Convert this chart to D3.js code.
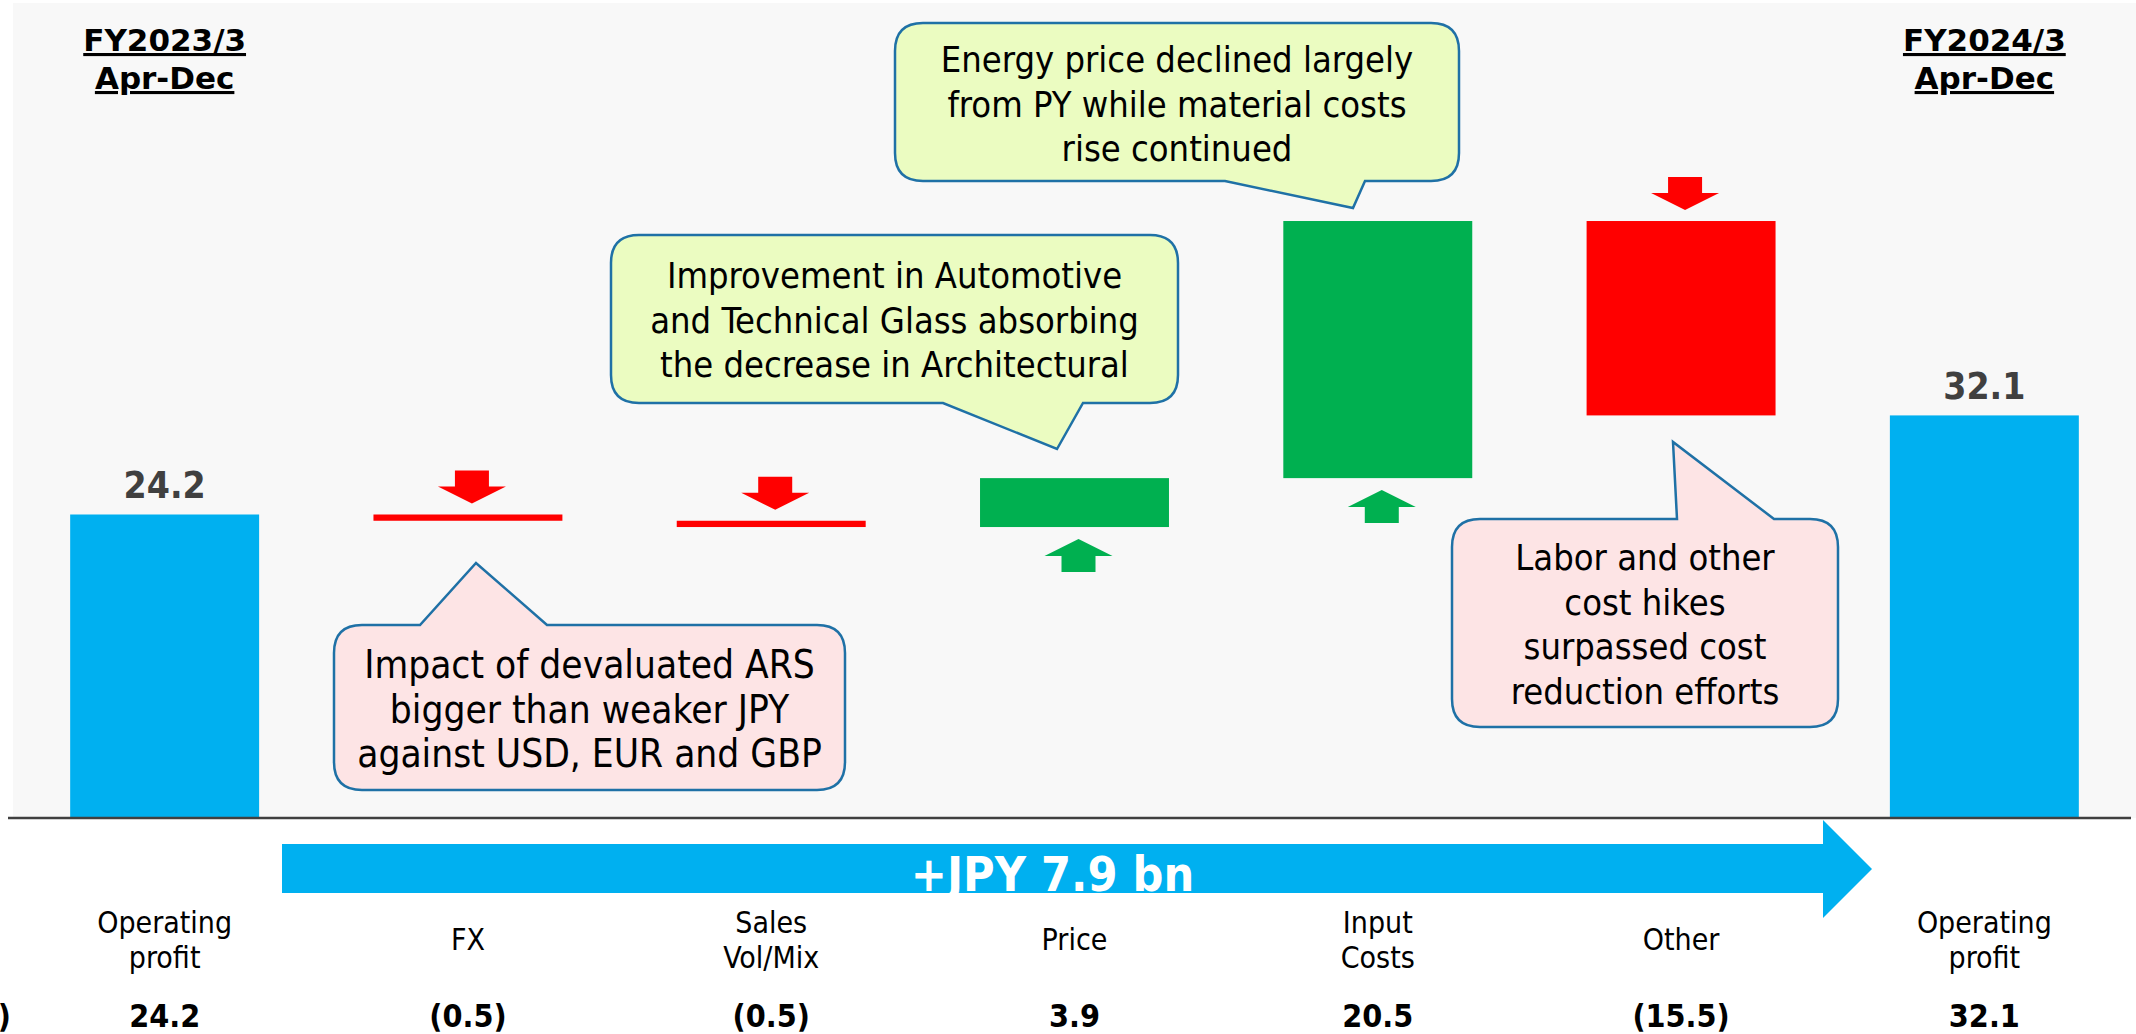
<!DOCTYPE html>
<html>
<head>
<meta charset="utf-8">
<script src="https://cdn.jsdelivr.net/npm/d3@7"></script>
<style>
	body { margin: 0; background: #ffffff; }
	svg { display: block; font-family: "DejaVu Sans", Verdana, sans-serif; }
	.narrow { font-family: "DejaVu Sans Condensed", "DejaVu Sans", sans-serif; font-stretch: condensed; }
</style>
</head>
<body>
<div class="chart"></div>
<script>
// categories and values
var categoryLines = [['Operating', 'profit'], ['FX'], ['Sales', 'Vol/Mix'], ['Price'], ['Input', 'Costs'], ['Other'], ['Operating', 'profit']];
var values = [24.2, -0.5, -0.5, 3.9, 20.5, -15.5, 32.1];
var isTotal = [true, false, false, false, false, false, true];
var valueLabels = ['24.2', '(0.5)', '(0.5)', '3.9', '20.5', '(15.5)', '32.1'];
var periodLabels = [['FY2023/3', 'Apr-Dec'], ['FY2024/3', 'Apr-Dec']];
var unitLabel = '(JPY bn)';
var changeLabel = '+JPY 7.9 bn';

var calloutFx = ['Impact of devaluated ARS', 'bigger than weaker JPY', 'against USD, EUR and GBP'];
var calloutPrice = ['Improvement in Automotive', 'and Technical Glass absorbing', 'the decrease in Architectural'];
var calloutInput = ['Energy price declined largely', 'from PY while material costs', 'rise continued'];
var calloutOther = ['Labor and other', 'cost hikes', 'surpassed cost', 'reduction efforts'];

var drawChart = function(){
	var w = 2136;
	var h = 1034;
	var baseY = 818;

	var blue = '#00b0f0';
	var green = '#00b050';
	var red = '#ff0000';
	var edge = '#1f71a6';

	var svg = d3.select('.chart').append('svg')
		.attr('width', w)
		.attr('height', h);

	/*---------------------------SCALES--------------------------*/

	var x = d3.scaleBand()
		.domain(d3.range(values.length))
		.range([13, w])
		.paddingInner(0.377)
		.paddingOuter(0.1885);

	var y = d3.scaleLinear()
		.domain([0, 48])
		.range([baseY, 216]);

	// running totals for the waterfall
	var run = 0;
	var steps = values.map(function(v, i){
		var s;
		if (isTotal[i]) {
			s = {i: i, from: 0, to: v};
			run = v;
		} else {
			s = {i: i, from: run, to: run + v};
			run = run + v;
		}
		s.top = Math.max(s.from, s.to);
		s.bottom = Math.min(s.from, s.to);
		s.color = isTotal[i] ? blue : (v < 0 ? red : green);
		return s;
	});

	/*---------------------------BACKGROUND--------------------------*/

	svg.append('rect')
		.attr('x', 13)
		.attr('y', 3)
		.attr('width', w - 13)
		.attr('height', baseY - 3)
		.attr('fill', '#f8f8f8');

	/*---------------------------BARS--------------------------*/

	svg.selectAll('.bar').data(steps)
		.enter()
		.append('rect')
		.attr('class', 'bar')
		.attr('x', function(d){ return x(d.i); })
		.attr('y', function(d){ return y(d.top); })
		.attr('width', x.bandwidth())
		.attr('height', function(d){ return y(d.bottom) - y(d.top); })
		.attr('fill', function(d){ return d.color; });

	svg.selectAll('.total-label').data(steps.filter(function(d){ return isTotal[d.i]; }))
		.enter()
		.append('text')
		.attr('class', 'total-label narrow')
		.attr('x', function(d){ return x(d.i) + x.bandwidth() / 2; })
		.attr('y', function(d){ return y(d.top) - 16; })
		.attr('text-anchor', 'middle')
		.attr('font-size', 37)
		.attr('font-weight', 'bold')
		.attr('fill', '#404040')
		.text(function(d){ return valueLabels[d.i]; });

	/*---------------------------UP / DOWN ARROWS--------------------------*/

	var arrowPath = function(cx, tipY, dir){
		// dir 1 = pointing down, -1 = pointing up
		var hw = 34, sw = 17, head = 17, len = 33;
		var b = tipY - dir * head;
		var e = tipY - dir * len;
		return 'M' + cx + ',' + tipY +
			'L' + (cx + hw) + ',' + b +
			'L' + (cx + sw) + ',' + b +
			'L' + (cx + sw) + ',' + e +
			'L' + (cx - sw) + ',' + e +
			'L' + (cx - sw) + ',' + b +
			'L' + (cx - hw) + ',' + b + 'Z';
	};

	svg.selectAll('.move').data(steps.filter(function(d){ return !isTotal[d.i]; }))
		.enter()
		.append('path')
		.attr('class', 'move')
		.attr('d', function(d){
			var cx = x(d.i) + x.bandwidth() / 2 + 4;
			if (values[d.i] < 0) return arrowPath(cx, y(d.top) - 11, 1);
			return arrowPath(cx, y(d.bottom) + 12, -1);
		})
		.attr('fill', function(d){ return d.color; });

	/*---------------------------BASE LINE--------------------------*/

	svg.append('line')
		.attr('x1', 8)
		.attr('x2', 2131)
		.attr('y1', baseY)
		.attr('y2', baseY)
		.attr('stroke', '#404040')
		.attr('stroke-width', 2.5);

	/*---------------------------PERIOD HEADERS--------------------------*/

	var heads = svg.selectAll('.period').data(periodLabels)
		.enter()
		.append('text')
		.attr('class', 'period')
		.attr('text-anchor', 'middle')
		.attr('font-size', 31)
		.attr('font-weight', 'bold')
		.attr('text-decoration', 'underline')
		.attr('fill', '#000');

	heads.each(function(d, k){
		var cx = x(k === 0 ? 0 : values.length - 1) + x.bandwidth() / 2;
		d3.select(this).selectAll('tspan').data(d)
			.enter()
			.append('tspan')
			.attr('x', cx)
			.attr('y', function(t, j){ return 51 + j * 38; })
			.text(function(t){ return t; });
	});

	/*---------------------------CHANGE ARROW--------------------------*/

	var ax0 = 282, ax1 = 1823, tip = 1872;
	svg.append('path')
		.attr('d', 'M' + ax0 + ',844L' + ax1 + ',844L' + ax1 + ',820L' + tip + ',869L' +
			ax1 + ',918L' + ax1 + ',893L' + ax0 + ',893Z')
		.attr('fill', blue);

	svg.append('text')
		.attr('class', 'narrow')
		.attr('x', (ax0 + ax1) / 2)
		.attr('y', 891)
		.attr('text-anchor', 'middle')
		.attr('font-size', 48)
		.attr('font-weight', 'bold')
		.attr('fill', '#ffffff')
		.text(changeLabel);

	/*---------------------------CATEGORY LABELS--------------------------*/

	var cats = svg.selectAll('.cat').data(categoryLines)
		.enter()
		.append('text')
		.attr('class', 'cat narrow')
		.attr('text-anchor', 'middle')
		.attr('font-size', 30)
		.attr('fill', '#000');

	cats.each(function(d, i){
		var cx = x(i) + x.bandwidth() / 2;
		var y0 = 950 - (d.length - 1) * 35 / 2;
		d3.select(this).selectAll('tspan').data(d)
			.enter()
			.append('tspan')
			.attr('x', cx)
			.attr('y', function(t, j){ return y0 + j * 35; })
			.text(function(t){ return t; });
	});

	svg.selectAll('.val').data(valueLabels)
		.enter()
		.append('text')
		.attr('class', 'val narrow')
		.attr('x', function(d, i){ return x(i) + x.bandwidth() / 2; })
		.attr('y', 1027)
		.attr('text-anchor', 'middle')
		.attr('font-size', 32)
		.attr('font-weight', 'bold')
		.attr('fill', '#000')
		.text(function(d){ return d; });

	svg.append('text')
		.attr('class', 'narrow')
		.attr('x', 11)
		.attr('y', 1027)
		.attr('text-anchor', 'end')
		.attr('font-size', 32)
		.attr('font-weight', 'bold')
		.text(unitLabel);

	/*---------------------------CALLOUTS--------------------------*/

	var calloutPath = function(c){
		var r = 28;
		var x0 = c.box[0], y0 = c.box[1], x1 = c.box[2], y1 = c.box[3];
		var p = 'M' + (x0 + r) + ',' + y0;
		if (c.side === 'top') p += 'L' + c.base[0] + ',' + y0 + 'L' + c.tip[0] + ',' + c.tip[1] + 'L' + c.base[1] + ',' + y0;
		p += 'L' + (x1 - r) + ',' + y0 + 'Q' + x1 + ',' + y0 + ' ' + x1 + ',' + (y0 + r);
		p += 'L' + x1 + ',' + (y1 - r) + 'Q' + x1 + ',' + y1 + ' ' + (x1 - r) + ',' + y1;
		if (c.side === 'bottom') p += 'L' + c.base[1] + ',' + y1 + 'L' + c.tip[0] + ',' + c.tip[1] + 'L' + c.base[0] + ',' + y1;
		p += 'L' + (x0 + r) + ',' + y1 + 'Q' + x0 + ',' + y1 + ' ' + x0 + ',' + (y1 - r);
		p += 'L' + x0 + ',' + (y0 + r) + 'Q' + x0 + ',' + y0 + ' ' + (x0 + r) + ',' + y0 + 'Z';
		return p;
	};

	var callouts = [
		{lines: calloutFx, fill: '#fde4e5', box: [334, 625, 845, 790], side: 'top', base: [420, 547], tip: [476, 563], y0: 678, size: 38.5},
		{lines: calloutPrice, fill: '#ebfcc1', box: [611, 235, 1178, 403], side: 'bottom', base: [943, 1083], tip: [1057, 449], y0: 288, size: 36},
		{lines: calloutInput, fill: '#ebfcc1', box: [895, 23, 1459, 181], side: 'bottom', base: [1225, 1365], tip: [1353, 208], y0: 72, size: 36},
		{lines: calloutOther, fill: '#fde4e5', box: [1452, 519, 1838, 727], side: 'top', base: [1677, 1774], tip: [1673, 442], y0: 570, size: 36}
	];

	var bubbles = svg.selectAll('.callout').data(callouts)
		.enter()
		.append('g')
		.attr('class', 'callout');

	bubbles.append('path')
		.attr('d', calloutPath)
		.attr('fill', function(d){ return d.fill; })
		.attr('stroke', edge)
		.attr('stroke-width', 2.5);

	bubbles.each(function(c){
		var cx = (c.box[0] + c.box[2]) / 2;
		d3.select(this).append('text')
			.attr('class', 'narrow')
			.attr('text-anchor', 'middle')
			.attr('font-size', c.size)
			.attr('fill', '#000')
			.selectAll('tspan').data(c.lines)
			.enter()
			.append('tspan')
			.attr('x', cx)
			.attr('y', function(t, j){ return c.y0 + j * 44.5; })
			.text(function(t){ return t; });
	});
}();
</script>
</body>
</html>
